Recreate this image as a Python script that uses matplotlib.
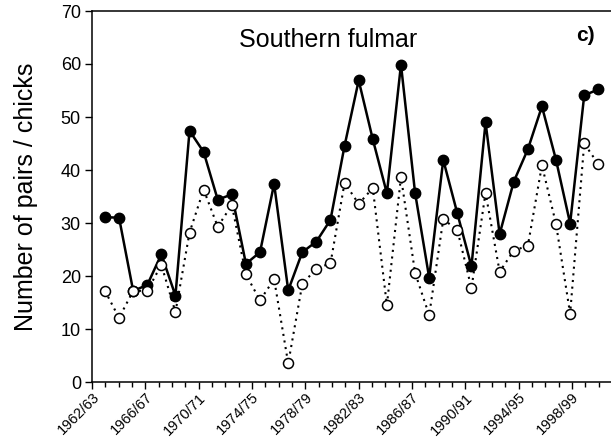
import matplotlib
matplotlib.use("Agg")
import matplotlib.pyplot as plt

plt.rcParams['font.family'] = ['Liberation Sans', 'DejaVu Sans']

# breeding seasons 1962/63 .. 1997/98
pairs = [31.1, 31.0, 17.2, 18.3, 24.1, 16.3, 47.4, 43.4, 34.4, 35.4,
         22.3, 24.5, 37.4, 17.3, 24.5, 26.5, 30.6, 44.6, 56.9, 45.8,
         35.6, 59.9, 35.7, 19.7, 41.9, 31.8, 21.8, 49.0, 27.9, 37.8,
         43.9, 52.0, 41.9, 29.9, 54.1, 55.2]
chicks = [17.2, 12.1, 17.2, 17.2, 22.1, 13.2, 28.2, 36.3, 29.3, 33.4,
          20.3, 15.4, 19.4, 3.5, 18.5, 21.4, 22.4, 37.6, 33.6, 36.6,
          14.5, 38.7, 20.6, 12.6, 30.7, 28.7, 17.7, 35.7, 20.8, 24.8,
          25.7, 40.9, 29.8, 12.9, 45.0, 41.1]
tick_labels = ['1962/63', '1966/67', '1970/71', '1974/75', '1978/79',
               '1982/83', '1986/87', '1990/91', '1994/95', '1998/99']
n_ticks = 39

W, H = 611, 440
fig = plt.figure(figsize=(W / 100, H / 100), dpi=100)
ax = fig.add_axes([92 / W, (H - 382) / H, (W - 92) / W, (382 - 11) / H])

x = list(range(len(pairs)))
ax.plot(x, pairs, '-', color='black', lw=1.8, marker='o', ms=7.5,
        mfc='black', mec='black', zorder=2)
ax.plot(x, chicks, color='black', lw=1.5, ls=(0, (1, 2.2)), marker='o',
        ms=7.2, mfc='white', mec='black', mew=1.1, zorder=3)

ax.set_xlim(-0.92, 35.9)
ax.set_ylim(0, 70)
ax.set_yticks(range(0, 71, 10))
ax.tick_params(axis='y', direction='out', length=5, width=1, labelsize=13, pad=3)
ax.set_xticks([])
ax.spines['right'].set_visible(False)
for s in ['left', 'bottom', 'top']:
    ax.spines[s].set_linewidth(1.1)
ax.set_ylabel('Number of pairs / chicks', fontsize=18, labelpad=16)

# season axis with a tick every year
ax2 = ax.twiny()
ax2.set_xlim(0, (W - 92) / 13.33)
ax2.xaxis.set_ticks_position('bottom')
ax2.xaxis.set_label_position('bottom')
ax2.set_xticks(range(n_ticks), minor=True)
ax2.set_xticks(range(0, 4 * len(tick_labels), 4))
ax2.set_xticklabels(tick_labels, rotation=45, ha='right', rotation_mode='anchor',
                    fontsize=10.5)
ax2.tick_params(axis='x', which='major', direction='out', length=5, width=1, pad=1)
ax2.tick_params(axis='x', which='minor', direction='out', length=3.5, width=1)
for s in ax2.spines.values():
    s.set_visible(False)

ax.text(0.454, 0.922, 'Southern fulmar', transform=ax.transAxes, ha='center',
        va='center', fontsize=18)
ax.text(0.95, 0.935, 'c)', transform=ax.transAxes, ha='center', va='center',
        fontsize=15, fontweight='bold')

fig.savefig('out.png', dpi=100)
